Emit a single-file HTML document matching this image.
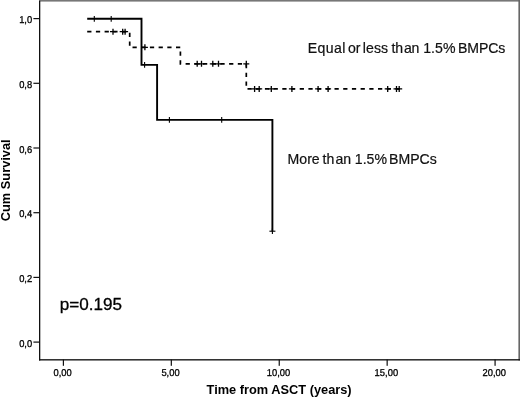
<!DOCTYPE html>
<html><head><meta charset="utf-8"><title>Kaplan-Meier</title>
<style>
html,body{margin:0;padding:0;background:#fff;}
body{width:520px;height:398px;overflow:hidden;}
svg{display:block;font-family:"Liberation Sans",Arial,sans-serif;}
</style></head><body>
<svg width="520" height="398" viewBox="0 0 520 398">
<rect width="520" height="398" fill="#fff"/>

<rect x="39" y="0" width="481" height="1.6" fill="#777"/>
<rect x="518.4" y="0" width="1.6" height="360.5" fill="#666"/>
<rect x="39.0" y="0.8" width="1.3" height="359.7" fill="#111"/>
<rect x="39.0" y="359.15" width="481" height="1.35" fill="#111"/>
<rect x="33.4" y="18.00" width="6" height="1.2" fill="#111"/>
<text transform="translate(32.2 23.20) skewX(0.05) scale(0.94 1)" font-size="10" text-anchor="end" fill="#000" stroke="#000" stroke-width="0.3">1,0</text>
<rect x="33.4" y="82.70" width="6" height="1.2" fill="#111"/>
<text transform="translate(32.2 87.90) skewX(0.05) scale(0.94 1)" font-size="10" text-anchor="end" fill="#000" stroke="#000" stroke-width="0.3">0,8</text>
<rect x="33.4" y="147.40" width="6" height="1.2" fill="#111"/>
<text transform="translate(32.2 152.60) skewX(0.05) scale(0.94 1)" font-size="10" text-anchor="end" fill="#000" stroke="#000" stroke-width="0.3">0,6</text>
<rect x="33.4" y="212.10" width="6" height="1.2" fill="#111"/>
<text transform="translate(32.2 217.30) skewX(0.05) scale(0.94 1)" font-size="10" text-anchor="end" fill="#000" stroke="#000" stroke-width="0.3">0,4</text>
<rect x="33.4" y="276.80" width="6" height="1.2" fill="#111"/>
<text transform="translate(32.2 282.00) skewX(0.05) scale(0.94 1)" font-size="10" text-anchor="end" fill="#000" stroke="#000" stroke-width="0.3">0,2</text>
<rect x="33.4" y="341.50" width="6" height="1.2" fill="#111"/>
<text transform="translate(32.2 346.70) skewX(0.05) scale(0.94 1)" font-size="10" text-anchor="end" fill="#000" stroke="#000" stroke-width="0.3">0,0</text>
<rect x="62.80" y="359.6" width="1.2" height="6.2" fill="#111"/>
<text transform="translate(62.60 376) skewX(0.05) scale(0.94 1)" font-size="10" text-anchor="middle" fill="#000" stroke="#000" stroke-width="0.3">0,00</text>
<rect x="170.72" y="359.6" width="1.2" height="6.2" fill="#111"/>
<text transform="translate(170.52 376) skewX(0.05) scale(0.94 1)" font-size="10" text-anchor="middle" fill="#000" stroke="#000" stroke-width="0.3">5,00</text>
<rect x="278.64" y="359.6" width="1.2" height="6.2" fill="#111"/>
<text transform="translate(278.44 376) skewX(0.05) scale(0.94 1)" font-size="10" text-anchor="middle" fill="#000" stroke="#000" stroke-width="0.3">10,00</text>
<rect x="386.56" y="359.6" width="1.2" height="6.2" fill="#111"/>
<text transform="translate(386.36 376) skewX(0.05) scale(0.94 1)" font-size="10" text-anchor="middle" fill="#000" stroke="#000" stroke-width="0.3">15,00</text>
<rect x="494.48" y="359.6" width="1.2" height="6.2" fill="#111"/>
<text transform="translate(494.28 376) skewX(0.05) scale(0.94 1)" font-size="10" text-anchor="middle" fill="#000" stroke="#000" stroke-width="0.3">20,00</text>
<text x="279.1" y="394.2" font-size="12.8" font-weight="bold" text-anchor="middle" fill="#000">Time from ASCT (years)</text>
<text transform="translate(10.0,180.3) rotate(-90)" font-size="12.8" font-weight="bold" text-anchor="middle" fill="#000">Cum Survival</text>
<polyline points="87.2,31.7 129.7,31.7 129.7,47.3 180.4,47.3 180.4,63.8 246.3,63.8 246.3,88.9 402.6,88.9" fill="none" stroke="#000" stroke-width="1.7" stroke-dasharray="4.25 4.45"/>
<path d="M113.0 28.7V34.7M110.0 31.7H116.0" stroke="#000" stroke-width="1.3" fill="none"/>
<path d="M122.7 28.7V34.7M119.7 31.7H125.7" stroke="#000" stroke-width="1.3" fill="none"/>
<path d="M125.1 28.7V34.7M122.1 31.7H128.1" stroke="#000" stroke-width="1.3" fill="none"/>
<path d="M144.9 44.3V50.3M141.9 47.3H147.9" stroke="#000" stroke-width="1.3" fill="none"/>
<path d="M197.2 60.8V66.8M194.2 63.8H200.2" stroke="#000" stroke-width="1.3" fill="none"/>
<path d="M201.5 60.8V66.8M198.5 63.8H204.5" stroke="#000" stroke-width="1.3" fill="none"/>
<path d="M212.8 60.8V66.8M209.8 63.8H215.8" stroke="#000" stroke-width="1.3" fill="none"/>
<path d="M218.5 60.8V66.8M215.5 63.8H221.5" stroke="#000" stroke-width="1.3" fill="none"/>
<path d="M246.3 60.8V66.8M243.3 63.8H249.3" stroke="#000" stroke-width="1.3" fill="none"/>
<path d="M254.6 85.9V91.9M251.6 88.9H257.6" stroke="#000" stroke-width="1.3" fill="none"/>
<path d="M259.2 85.9V91.9M256.2 88.9H262.2" stroke="#000" stroke-width="1.3" fill="none"/>
<path d="M271.3 85.9V91.9M268.3 88.9H274.3" stroke="#000" stroke-width="1.3" fill="none"/>
<path d="M291.9 85.9V91.9M288.9 88.9H294.9" stroke="#000" stroke-width="1.3" fill="none"/>
<path d="M318.1 85.9V91.9M315.1 88.9H321.1" stroke="#000" stroke-width="1.3" fill="none"/>
<path d="M328.1 85.9V91.9M325.1 88.9H331.1" stroke="#000" stroke-width="1.3" fill="none"/>
<path d="M387.7 85.9V91.9M384.7 88.9H390.7" stroke="#000" stroke-width="1.3" fill="none"/>
<path d="M396.5 85.9V91.9M393.5 88.9H399.5" stroke="#000" stroke-width="1.3" fill="none"/>
<path d="M399.2 85.9V91.9M396.2 88.9H402.2" stroke="#000" stroke-width="1.3" fill="none"/>
<polyline points="87.2,18.8 141.5,18.8 141.5,64.9 157.1,64.9 157.1,119.9 272.4,119.9 272.4,231.2" fill="none" stroke="#000" stroke-width="1.9" stroke-linejoin="miter"/>
<path d="M94.3 16.0V21.7" stroke="#000" stroke-width="1.1" fill="none"/>
<path d="M111.2 16.0V21.7" stroke="#000" stroke-width="1.1" fill="none"/>
<path d="M144.6 62.1V67.8" stroke="#000" stroke-width="1.1" fill="none"/>
<path d="M169.4 117.1V122.8" stroke="#000" stroke-width="1.1" fill="none"/>
<path d="M221.7 117.1V122.8" stroke="#000" stroke-width="1.1" fill="none"/>
<path d="M272.4 228.4V234.1" stroke="#000" stroke-width="1.1" fill="none"/>
<line x1="269.4" y1="231.2" x2="275.4" y2="231.2" stroke="#000" stroke-width="1.1"/>
<text y="53.2" font-size="14.1" fill="#111" stroke="#111" stroke-width="0.2"><tspan x="307.70" letter-spacing="0.4">Equal</tspan> <tspan x="348.03" letter-spacing="0">or</tspan> <tspan x="362.73" letter-spacing="0.1">less</tspan> <tspan x="391.38" letter-spacing="0">th</tspan><tspan x="403.94" letter-spacing="-0.2">an</tspan> <tspan x="423.19" letter-spacing="0.05">1.5%</tspan> <tspan x="457.99" letter-spacing="-0.1">BMPCs</tspan></text>
<text y="163.6" font-size="14.1" fill="#111" stroke="#111" stroke-width="0.2"><tspan x="287.60" letter-spacing="0">More</tspan> <tspan x="322.54" letter-spacing="0">th</tspan><tspan x="335.50" letter-spacing="0">an</tspan> <tspan x="354.80" letter-spacing="0">1.5%</tspan> <tspan x="389.06" letter-spacing="0">BMPCs</tspan></text>
<text x="59.8" y="309.7" font-size="17.1" fill="#000" stroke="#000" stroke-width="0.3">p=0.195</text>
</svg></body></html>
